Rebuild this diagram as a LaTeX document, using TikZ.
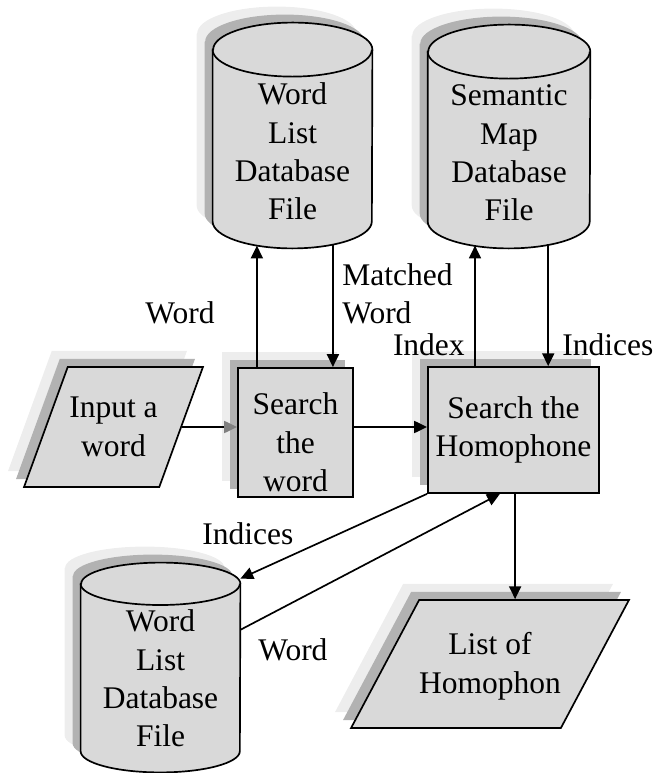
\documentclass[tikz,border=0pt]{standalone}
\usepackage{fontspec}
\setmainfont{Liberation Serif}
\usepackage{tikz}
\usetikzlibrary{arrows.meta,shapes.geometric,shadows,backgrounds}
\newcommand{\fs}{\fontsize{22.4}{27.2}\selectfont}

\tikzset{
    shaded/.style={draw, line width=1.2pt, fill=black!15,
        general shadow={fill=black!7, shadow xshift=-0.4cm, shadow yshift=0.4cm},
        general shadow={fill=black!30, shadow xshift=-0.2cm, shadow yshift=0.2cm}},
    box/.style={shaded, font=\fs, align=center, inner sep=0pt},
    dbfile/.style={font=\fs, align=center, inner sep=0pt},
    process/.style={box, rectangle},
    io/.style={box, trapezium, text height=1.52cm, text depth=0.06cm},
    flow/.style={line width=1.2pt, -{Triangle[length=0.32cm,width=0.3cm]}},
    lbl/.style={font=\fs, inner sep=0pt}
}

% database drum behind a named node: #1 node, #2 x radius, #3 y radius
\newcommand{\drum}[3]{%
    \begin{scope}[on background layer]
        \path[shaded] ([yshift=-#3]#1.north west) -- ([yshift=#3]#1.south west)
            arc[start angle=180, end angle=360, x radius=#2, y radius=#3]
            -- ([yshift=-#3]#1.north east)
            arc[start angle=0, end angle=180, x radius=#2, y radius=#3] -- cycle;
        \draw[line width=1.2pt] ([yshift=-#3]#1.north west)
            arc[start angle=180, end angle=360, x radius=#2, y radius=#3];
    \end{scope}
}

\begin{document}
\begin{tikzpicture}[x=0.025cm, y=-0.025cm]
    \useasboundingbox (0,0) rectangle (667,773);

    % Database files
    \node[dbfile, minimum width=3.98cm, minimum height=5.63cm, text height=4.21cm] (wordlist) at (292.5,135.5) {Word\\List\\Database\\File};
    \drum{wordlist}{1.99cm}{0.675cm}
    \node[dbfile, minimum width=4.05cm, minimum height=5.58cm, text height=4.21cm] (semmap) at (509,136.5) {Semantic\\Map\\Database\\File};
    \drum{semmap}{2.025cm}{0.675cm}
    \node[dbfile, minimum width=3.98cm, minimum height=5.23cm, text height=3.96cm] (wordlistb) at (160.5,667.5) {Word\\List\\Database\\File};
    \drum{wordlistb}{1.99cm}{0.53cm}

    % Input / output
    \node[io, trapezium left angle=70, trapezium right angle=110, inner xsep=0.04cm, inner ysep=0.71cm] (input) at (113.5,427) {Input a\\word};
    \node[io, trapezium left angle=62, trapezium right angle=118, inner ysep=0.81cm] (result) at (490,664) {List of\\Homophon};

    % Processes
    \node[process, minimum width=2.88cm, minimum height=3.23cm, text height=2.95cm] (searchword) at (295.5,432.5) {Search\\the\\word};
    \node[process, minimum width=4.28cm, minimum height=3.15cm] (searchhomo) at (513.5,430) {Search the\\Homophone};

    % Main flow
    \draw[line width=1.2pt, -{Triangle[length=0.32cm,width=0.3cm,color=black!50]}] (input.east) -- (input.east -| searchword.west);
    \draw[flow] (input.east -| searchword.east) -- (input.east -| searchhomo.west);
    \draw[flow] ([xshift=0.04cm]searchhomo.south) -- ([xshift=0.04cm]searchhomo.south |- result.north);

    % Word list lookup
    \draw[flow] ([xshift=-0.89cm]wordlist.south |- searchword.north) -- ([xshift=-0.89cm,yshift=0.07cm]wordlist.south);
    \draw[flow] ([xshift=1.01cm,yshift=0.1cm]wordlist.south) -- ([xshift=1.01cm]wordlist.south |- searchword.north);

    % Semantic map lookup
    \draw[flow] ([xshift=-0.85cm]semmap.south |- searchhomo.north) -- ([xshift=-0.85cm,yshift=0.07cm]semmap.south);
    \draw[flow] ([xshift=0.98cm,yshift=0.1cm]semmap.south) -- ([xshift=0.98cm]semmap.south |- searchhomo.north);

    % Second word list
    \draw[flow] (searchhomo.south west) -- ([yshift=-0.4cm]wordlistb.north east);
    \draw[flow] ([yshift=-1.68cm]wordlistb.north east) -- ([xshift=-0.34cm]searchhomo.south);

    % Labels
    \node[lbl, anchor=base] (lword) at (180,323) {Word};
    \node[lbl, anchor=west, align=left] (lmatched) at (342,294) {Matched\\Word};
    \node[lbl, anchor=base east] (lindex) at (465,355) {Index};
    \node[lbl, anchor=base west] (lindices) at (562,355) {Indices};
    \node[lbl, anchor=base west] (lindicesb) at (202,544) {Indices};
    \node[lbl, anchor=base west] (lwordb) at (258,660) {Word};
\end{tikzpicture}
\end{document}
